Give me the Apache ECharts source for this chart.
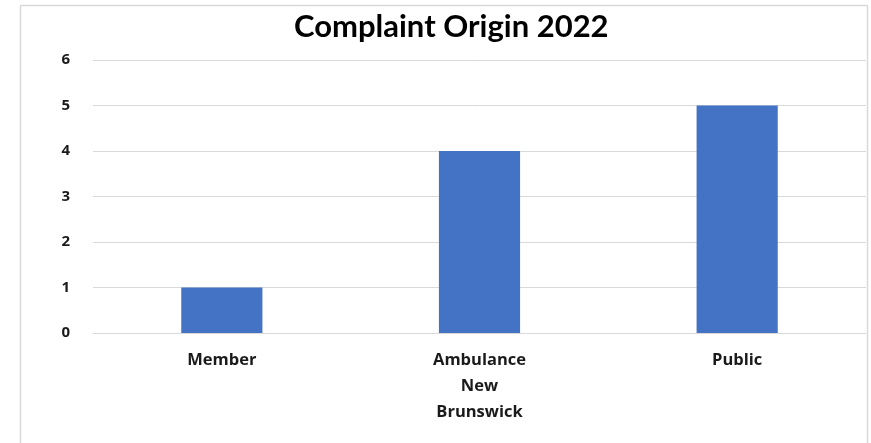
<!DOCTYPE html>
<html>
<head>
<meta charset="utf-8">
<script src="https://cdn.jsdelivr.net/npm/echarts@6/dist/echarts.min.js"></script>
<style>
  html, body { margin: 0; padding: 0; background: #fff; }
  #chart { width: 871px; height: 443px; }
</style>
</head>
<body>
<div id="chart"></div>
<script>
// Complaint counts by origin, 2022
const categories = ['Member', 'Ambulance\nNew\nBrunswick', 'Public'];
const complaints = [1, 4, 5];
const yTicks = { min: 0, max: 6, interval: 1 };

const chart = echarts.init(document.getElementById('chart'), null, { renderer: 'canvas' });

chart.setOption({
  backgroundColor: '#ffffff',
  animation: false,
  graphic: [{
    type: 'rect',
    shape: { x: 20.5, y: 5.5, width: 847, height: 460 },
    style: { fill: 'none', stroke: '#d9d9d9', lineWidth: 1.5 },
    silent: true
  }],
  title: {
    text: 'Complaint Origin 2022',
    left: 294,
    top: 11,
    padding: 0,
    textStyle: {
      fontFamily: 'Lato',
      fontWeight: 'bold',
      fontSize: 31,
      color: '#000000'
    }
  },
  grid: { left: 93, right: 5, top: 60, bottom: 110 },
  xAxis: {
    type: 'category',
    data: categories,
    axisLine: { show: true, lineStyle: { color: '#d9d9d9', width: 1 } },
    axisTick: { show: false },
    axisLabel: {
      margin: 14,
      fontFamily: 'Open Sans',
      fontWeight: 'bold',
      fontSize: 16.5,
      lineHeight: 26,
      color: '#1a1a1a'
    }
  },
  yAxis: {
    type: 'value',
    min: yTicks.min,
    max: yTicks.max,
    interval: yTicks.interval,
    axisLine: { show: false },
    axisTick: { show: false },
    splitLine: { lineStyle: { color: '#d9d9d9', width: 1 } },
    axisLabel: {
      margin: 23,
      fontFamily: 'Open Sans',
      fontWeight: 'bold',
      fontSize: 15,
      color: '#1a1a1a'
    }
  },
  series: [{
    type: 'bar',
    data: complaints,
    barWidth: '31.5%',
    itemStyle: { color: '#4472C4' }
  }]
});
</script>
</body>
</html>
